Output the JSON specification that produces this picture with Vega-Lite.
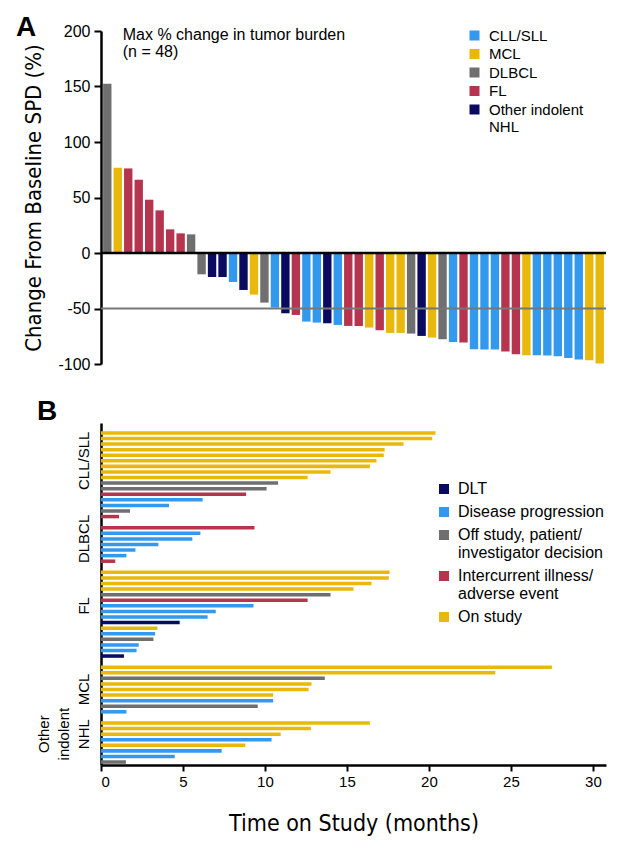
{
  "$schema": "https://vega.github.io/schema/vega-lite/v6.json",
  "background": "white",
  "padding": {"left": 15, "top": 14, "right": 10, "bottom": 10},
  "spacing": 26,
  "config": {
    "view": {"stroke": null},
    "font": "Liberation Sans",
    "axis": {"grid": false, "labelColor": "black", "titleColor": "black", "domainColor": "black", "tickColor": "black", "labelFont": "Liberation Sans", "titleFont": "'Liberation Sans Narrow', 'DejaVu Sans Condensed', 'Liberation Sans'", "titleFontWeight": "normal"},
    "legend": {"labelFont": "Liberation Sans", "labelColor": "black", "symbolType": "square", "symbolStrokeWidth": 0, "symbolSize": 100, "title": null}
  },
  "resolve": {"scale": {"color": "independent"}, "legend": {"color": "independent"}},
  "datasets": {
    "waterfall": [
      {"pt": "P01", "hist": "DLBCL", "change": 152.4},
      {"pt": "P02", "hist": "MCL", "change": 76.8},
      {"pt": "P03", "hist": "FL", "change": 76.2},
      {"pt": "P04", "hist": "FL", "change": 66.0},
      {"pt": "P05", "hist": "FL", "change": 48.0},
      {"pt": "P06", "hist": "FL", "change": 38.4},
      {"pt": "P07", "hist": "FL", "change": 21.3},
      {"pt": "P08", "hist": "FL", "change": 17.7},
      {"pt": "P09", "hist": "DLBCL", "change": 16.8},
      {"pt": "P10", "hist": "DLBCL", "change": -19.2},
      {"pt": "P11", "hist": "Other indolent NHL", "change": -21.6},
      {"pt": "P12", "hist": "Other indolent NHL", "change": -21.6},
      {"pt": "P13", "hist": "CLL/SLL", "change": -26.1},
      {"pt": "P14", "hist": "Other indolent NHL", "change": -33.3},
      {"pt": "P15", "hist": "MCL", "change": -37.5},
      {"pt": "P16", "hist": "DLBCL", "change": -44.7},
      {"pt": "P17", "hist": "CLL/SLL", "change": -49.2},
      {"pt": "P18", "hist": "Other indolent NHL", "change": -54.3},
      {"pt": "P19", "hist": "FL", "change": -55.8},
      {"pt": "P20", "hist": "CLL/SLL", "change": -61.8},
      {"pt": "P21", "hist": "CLL/SLL", "change": -62.7},
      {"pt": "P22", "hist": "Other indolent NHL", "change": -63.3},
      {"pt": "P23", "hist": "CLL/SLL", "change": -64.8},
      {"pt": "P24", "hist": "FL", "change": -65.7},
      {"pt": "P25", "hist": "FL", "change": -65.7},
      {"pt": "P26", "hist": "MCL", "change": -67.2},
      {"pt": "P27", "hist": "FL", "change": -69.6},
      {"pt": "P28", "hist": "MCL", "change": -72.0},
      {"pt": "P29", "hist": "MCL", "change": -72.0},
      {"pt": "P30", "hist": "DLBCL", "change": -72.6},
      {"pt": "P31", "hist": "Other indolent NHL", "change": -74.7},
      {"pt": "P32", "hist": "MCL", "change": -76.2},
      {"pt": "P33", "hist": "DLBCL", "change": -77.7},
      {"pt": "P34", "hist": "CLL/SLL", "change": -80.1},
      {"pt": "P35", "hist": "FL", "change": -80.7},
      {"pt": "P36", "hist": "CLL/SLL", "change": -86.7},
      {"pt": "P37", "hist": "CLL/SLL", "change": -87.0},
      {"pt": "P38", "hist": "CLL/SLL", "change": -87.0},
      {"pt": "P39", "hist": "FL", "change": -88.8},
      {"pt": "P40", "hist": "FL", "change": -91.2},
      {"pt": "P41", "hist": "MCL", "change": -92.1},
      {"pt": "P42", "hist": "CLL/SLL", "change": -92.1},
      {"pt": "P43", "hist": "CLL/SLL", "change": -92.4},
      {"pt": "P44", "hist": "CLL/SLL", "change": -93.0},
      {"pt": "P45", "hist": "CLL/SLL", "change": -94.5},
      {"pt": "P46", "hist": "CLL/SLL", "change": -96.0},
      {"pt": "P47", "hist": "MCL", "change": -96.6},
      {"pt": "P48", "hist": "MCL", "change": -99.6}
    ],
    "swimmer": [
      {"pt": "c01", "group": "CLL/SLL", "reason": "On study", "months": 20.4},
      {"pt": "c02", "group": "CLL/SLL", "reason": "On study", "months": 20.2},
      {"pt": "c03", "group": "CLL/SLL", "reason": "On study", "months": 18.45},
      {"pt": "c04", "group": "CLL/SLL", "reason": "On study", "months": 17.3},
      {"pt": "c05", "group": "CLL/SLL", "reason": "On study", "months": 17.25},
      {"pt": "c06", "group": "CLL/SLL", "reason": "On study", "months": 16.8},
      {"pt": "c07", "group": "CLL/SLL", "reason": "On study", "months": 16.4},
      {"pt": "c08", "group": "CLL/SLL", "reason": "On study", "months": 14.0},
      {"pt": "c09", "group": "CLL/SLL", "reason": "On study", "months": 12.6},
      {"pt": "c10", "group": "CLL/SLL", "reason": "Off study, patient/investigator decision", "months": 10.8},
      {"pt": "c11", "group": "CLL/SLL", "reason": "Off study, patient/investigator decision", "months": 10.1},
      {"pt": "c12", "group": "CLL/SLL", "reason": "Intercurrent illness/adverse event", "months": 8.85},
      {"pt": "c13", "group": "CLL/SLL", "reason": "Disease progression", "months": 6.2},
      {"pt": "c14", "group": "CLL/SLL", "reason": "Disease progression", "months": 4.15},
      {"pt": "c15", "group": "CLL/SLL", "reason": "Off study, patient/investigator decision", "months": 1.77},
      {"pt": "c16", "group": "CLL/SLL", "reason": "Intercurrent illness/adverse event", "months": 1.1},
      {"pt": "d01", "group": "DLBCL", "reason": "Intercurrent illness/adverse event", "months": 9.36},
      {"pt": "d02", "group": "DLBCL", "reason": "Disease progression", "months": 6.06},
      {"pt": "d03", "group": "DLBCL", "reason": "Disease progression", "months": 5.57},
      {"pt": "d04", "group": "DLBCL", "reason": "Disease progression", "months": 3.5},
      {"pt": "d05", "group": "DLBCL", "reason": "Disease progression", "months": 2.1},
      {"pt": "d06", "group": "DLBCL", "reason": "Disease progression", "months": 1.55},
      {"pt": "d07", "group": "DLBCL", "reason": "Intercurrent illness/adverse event", "months": 0.87},
      {"pt": "f01", "group": "FL", "reason": "On study", "months": 17.6},
      {"pt": "f02", "group": "FL", "reason": "On study", "months": 17.55},
      {"pt": "f03", "group": "FL", "reason": "On study", "months": 16.5},
      {"pt": "f04", "group": "FL", "reason": "On study", "months": 15.4},
      {"pt": "f05", "group": "FL", "reason": "Off study, patient/investigator decision", "months": 14.0},
      {"pt": "f06", "group": "FL", "reason": "Intercurrent illness/adverse event", "months": 12.6},
      {"pt": "f07", "group": "FL", "reason": "Disease progression", "months": 9.3},
      {"pt": "f08", "group": "FL", "reason": "Disease progression", "months": 7.0},
      {"pt": "f09", "group": "FL", "reason": "Disease progression", "months": 6.5},
      {"pt": "f10", "group": "FL", "reason": "DLT", "months": 4.8},
      {"pt": "f11", "group": "FL", "reason": "On study", "months": 3.44},
      {"pt": "f12", "group": "FL", "reason": "Disease progression", "months": 3.3},
      {"pt": "f13", "group": "FL", "reason": "Off study, patient/investigator decision", "months": 3.2},
      {"pt": "f14", "group": "FL", "reason": "Disease progression", "months": 2.3},
      {"pt": "f15", "group": "FL", "reason": "Disease progression", "months": 2.17},
      {"pt": "f16", "group": "FL", "reason": "DLT", "months": 1.4},
      {"pt": "m01", "group": "MCL", "reason": "On study", "months": 27.5},
      {"pt": "m02", "group": "MCL", "reason": "On study", "months": 24.05},
      {"pt": "m03", "group": "MCL", "reason": "Off study, patient/investigator decision", "months": 13.65},
      {"pt": "m04", "group": "MCL", "reason": "On study", "months": 12.84},
      {"pt": "m05", "group": "MCL", "reason": "On study", "months": 12.66},
      {"pt": "m06", "group": "MCL", "reason": "On study", "months": 10.5},
      {"pt": "m07", "group": "MCL", "reason": "Disease progression", "months": 10.5},
      {"pt": "m08", "group": "MCL", "reason": "Off study, patient/investigator decision", "months": 9.56},
      {"pt": "m09", "group": "MCL", "reason": "Disease progression", "months": 1.55},
      {"pt": "o01", "group": "Other indolent NHL", "reason": "On study", "months": 16.4},
      {"pt": "o02", "group": "Other indolent NHL", "reason": "On study", "months": 12.8},
      {"pt": "o03", "group": "Other indolent NHL", "reason": "On study", "months": 10.96},
      {"pt": "o04", "group": "Other indolent NHL", "reason": "Disease progression", "months": 10.4},
      {"pt": "o05", "group": "Other indolent NHL", "reason": "On study", "months": 8.8},
      {"pt": "o06", "group": "Other indolent NHL", "reason": "Disease progression", "months": 7.36},
      {"pt": "o07", "group": "Other indolent NHL", "reason": "Disease progression", "months": 4.5},
      {"pt": "o08", "group": "Other indolent NHL", "reason": "Off study, patient/investigator decision", "months": 1.52}
    ],
    "groups": [
      {"group": "CLL/SLL", "at": "c06", "lines": ["CLL/SLL"]},
      {"group": "DLBCL", "at": "d03", "lines": ["DLBCL"]},
      {"group": "FL", "at": "f07", "lines": ["FL"]},
      {"group": "MCL", "at": "m05", "lines": ["MCL"]},
      {"group": "Other indolent NHL", "at": "o03", "lines": ["Other", "indolent", "NHL"]}
    ],
    "note": [{"lines": ["Max % change in tumor burden", "(n = 48)"]}]
  },
  "vconcat": [
    {
      "title": {"text": "A", "anchor": "start", "frame": "bounds", "fontSize": 28, "fontWeight": "bold", "font": "Liberation Sans", "color": "black", "offset": 2, "dx": -7, "dy": 21},
      "width": 505,
      "height": 333,
      "layer": [
        {
          "data": {"name": "waterfall"},
          "mark": {"type": "bar"},
          "encoding": {
            "x": {"field": "pt", "type": "nominal", "axis": null, "scale": {"paddingInner": 0.2, "paddingOuter": 0.2}},
            "y": {"field": "change", "type": "quantitative", "scale": {"domain": [-100, 200], "nice": false},
              "axis": {"values": [-100, -50, 0, 50, 100, 150, 200], "labelExpr": "datum.value < 0 ? '-' + abs(datum.value) : datum.label", "domainWidth": 2.5, "tickWidth": 2, "tickSize": 7, "labelFontSize": 16, "labelPadding": 4, "title": "Change From Baseline SPD (%)", "titleFontSize": 22, "titlePadding": 12}},
            "color": {"field": "hist", "type": "nominal",
              "scale": {"domain": ["CLL/SLL", "MCL", "DLBCL", "FL", "Other indolent NHL"], "range": ["#3399ee", "#e8b90c", "#6f6f6f", "#b5354f", "#0a0a60"]},
              "legend": {"orient": "none", "legendX": 366, "legendY": -3, "labelFontSize": 15, "rowPadding": 2.5, "labelOffset": 7, "labelExpr": "datum.label == 'Other indolent NHL' ? ['Other indolent', 'NHL'] : datum.label"}}
          }
        },
        {
          "data": {"values": [{}]},
          "mark": {"type": "rule", "color": "#777777", "strokeWidth": 2},
          "encoding": {"y": {"datum": -50}}
        },
        {
          "data": {"values": [{}]},
          "mark": {"type": "rule", "color": "black", "strokeWidth": 2.5},
          "encoding": {"y": {"datum": 0}}
        },
        {
          "data": {"name": "note"},
          "mark": {"type": "text", "align": "left", "baseline": "top", "fontSize": 16, "lineHeight": 17, "dx": 5, "dy": -4, "color": "black"},
          "encoding": {"x": {"datum": "P02"}, "y": {"datum": 200}, "text": {"field": "lines"}}
        }
      ]
    },
    {
      "title": {"text": "B", "anchor": "start", "frame": "bounds", "fontSize": 28, "fontWeight": "bold", "font": "Liberation Sans", "color": "black", "offset": 2, "dy": 5},
      "width": 505,
      "height": 342,
      "layer": [
        {
          "data": {"name": "swimmer"},
          "mark": {"type": "bar"},
          "encoding": {
            "y": {"field": "pt", "type": "nominal",
              "scale": {"domain": ["c01","c02","c03","c04","c05","c06","c07","c08","c09","c10","c11","c12","c13","c14","c15","c16","gap1","d01","d02","d03","d04","d05","d06","d07","gap2","f01","f02","f03","f04","f05","f06","f07","f08","f09","f10","f11","f12","f13","f14","f15","f16","gap3","m01","m02","m03","m04","m05","m06","m07","m08","m09","gap4","o01","o02","o03","o04","o05","o06","o07","o08"], "paddingInner": 0.37, "paddingOuter": 0.84, "align": 0.87},
              "axis": {"labels": false, "ticks": false, "title": null, "domainWidth": 2.5}},
            "x": {"field": "months", "type": "quantitative", "scale": {"domain": [0, 30.8], "nice": false},
              "axis": {"values": [0, 5, 10, 15, 20, 25, 30], "domainWidth": 2.5, "tickWidth": 2, "tickSize": 6, "labelFontSize": 15, "labelPadding": 3, "title": "Time on Study (months)", "titleFontSize": 23, "titlePadding": 23}},
            "color": {"field": "reason", "type": "nominal",
              "scale": {"domain": ["DLT", "Disease progression", "Off study, patient/investigator decision", "Intercurrent illness/adverse event", "On study"], "range": ["#0a0a60", "#3399ee", "#6f6f6f", "#b5354f", "#e8b90c"]},
              "legend": {"orient": "none", "legendX": 335, "legendY": 58, "labelFontSize": 16, "rowPadding": 7, "labelOffset": 6, "labelLimit": 300, "labelExpr": "datum.label == 'Off study, patient/investigator decision' ? ['Off study, patient/', 'investigator decision'] : datum.label == 'Intercurrent illness/adverse event' ? ['Intercurrent illness/', 'adverse event'] : datum.label"}}
          }
        },
        {
          "data": {"name": "groups"},
          "transform": [{"filter": "datum.group != 'Other indolent NHL'"}],
          "mark": {"type": "text", "angle": 270, "align": "center", "baseline": "bottom", "dy": -9, "fontSize": 15, "color": "black"},
          "encoding": {"x": {"datum": 0}, "y": {"field": "at", "type": "nominal", "axis": {"labels": false, "ticks": false, "title": null, "domainWidth": 2.5}}, "text": {"field": "lines"}}
        },
        {
          "data": {"name": "groups"},
          "transform": [{"filter": "datum.group == 'Other indolent NHL'"}],
          "mark": {"type": "text", "angle": 270, "align": "center", "baseline": "bottom", "dy": -49, "fontSize": 15, "lineHeight": 20, "color": "black"},
          "encoding": {"x": {"datum": 0}, "y": {"field": "at", "type": "nominal", "axis": {"labels": false, "ticks": false, "title": null, "domainWidth": 2.5}}, "text": {"field": "lines"}}
        }
      ]
    }
  ]
}
